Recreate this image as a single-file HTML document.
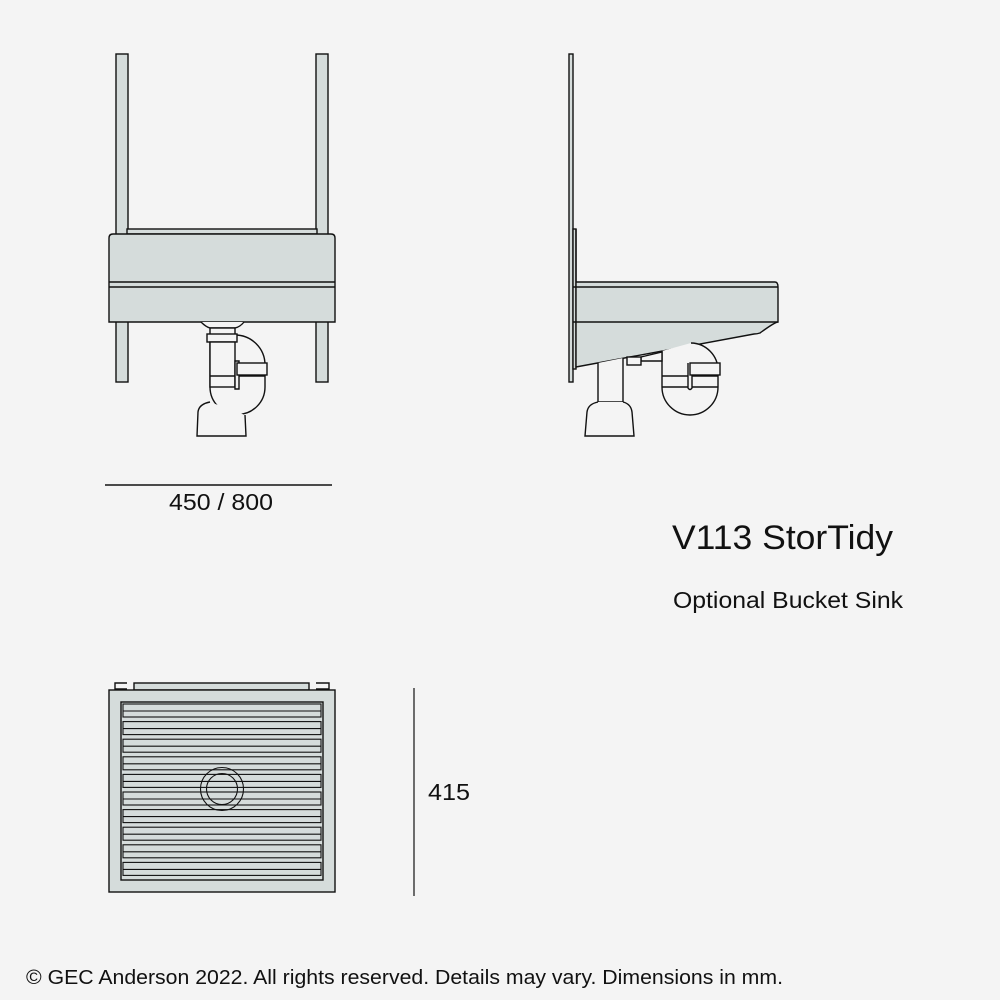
<!DOCTYPE html>
<html><head><style>
html,body{margin:0;padding:0;background:#f4f4f4;}
svg{display:block}
text{font-family:"Liberation Sans",Arial,sans-serif;fill:#111}
</style></head><body>
<svg width="1000" height="1000" viewBox="0 0 1000 1000" xmlns="http://www.w3.org/2000/svg">
<rect width="1000" height="1000" fill="#f4f4f4"/>
<g fill="#d5dcdb" stroke="#111" stroke-width="1.4">
<!-- FRONT VIEW -->
<rect x="116" y="54" width="12" height="328"/>
<rect x="316" y="54" width="12" height="328"/>
<rect x="127" y="229" width="190" height="5"/>
<path d="M109 322 V238 Q109 234 113 234 H331 Q335 234 335 238 V322 Z"/>
<line x1="109" y1="282" x2="335" y2="282"/>
<line x1="109" y1="287" x2="335" y2="287"/>
<path d="M201 322 Q206 327 210 328 H235 Q240 327 244 322" fill="#f4f4f4"/>
<g fill="#f4f4f4">
<path d="M235 335 A30 30 0 0 1 265 365 V387 A27.5 27.5 0 0 1 210 387 V342"/>
<rect x="210" y="328" width="25" height="7"/>
<rect x="207" y="334" width="30" height="8"/>
<rect x="210" y="342" width="25" height="45"/>
<line x1="210" y1="376" x2="265" y2="376"/>
<path d="M235 361 h4 v28 h-4z"/>
<rect x="237" y="363" width="30" height="12"/>
<path d="M210 402 Q199 404 198 412 L197 436 H246 L245 415"/>
</g>
<line x1="105" y1="485" x2="332" y2="485"/>

<!-- SIDE VIEW -->
<rect x="569" y="54" width="4" height="328"/>
<rect x="573" y="229" width="3" height="140"/>
<path d="M576 229 V282 H775 Q778 282 778 287 V322 Q775 322 760 333 Q757 334 754 334 L576 367 Z"/>
<line x1="573" y1="287" x2="778" y2="287"/>
<line x1="573" y1="322" x2="778" y2="322"/>
<g fill="#f4f4f4">
<path d="M691 343 A27.5 27.5 0 0 1 718 371 V387 A27.5 27.5 0 0 1 662 387 V351"/>
<line x1="662" y1="376" x2="718" y2="376"/>
<line x1="662" y1="387" x2="718" y2="387"/>
<path d="M688 363 V388 Q690 391 692 388 V363"/>
<rect x="690" y="363" width="30" height="12"/>
<path d="M641 357 L662 352 V361 H641Z"/>
<rect x="627" y="357" width="14" height="8"/>
<path d="M598 363 V402 H623 V358"/>
<path d="M598 402 Q588 404 587 412 L585 436 H634 L632 412 Q631 404 623 402"/>
</g>

<!-- TOP VIEW -->
<rect x="134" y="683" width="175" height="7"/>
<path d="M127 689 H115 V683 H127" fill="none"/>
<path d="M316 689 H329 V683 H316" fill="none"/>
<rect x="109" y="690" width="226" height="202"/>
<rect x="121" y="702" width="202" height="178"/>
</g>
<g fill="#d5dcdb" stroke="#111" stroke-width="1.1">
<rect x="123" y="704" width="198" height="13"/><line x1="123" y1="711" x2="321" y2="711"/>
<rect x="123" y="721.6" width="198" height="13"/><line x1="123" y1="728.6" x2="321" y2="728.6"/>
<rect x="123" y="739.2" width="198" height="13"/><line x1="123" y1="746.2" x2="321" y2="746.2"/>
<rect x="123" y="756.8" width="198" height="13"/><line x1="123" y1="763.8" x2="321" y2="763.8"/>
<rect x="123" y="774.4" width="198" height="13"/><line x1="123" y1="781.4" x2="321" y2="781.4"/>
<rect x="123" y="792" width="198" height="13"/><line x1="123" y1="799" x2="321" y2="799"/>
<rect x="123" y="809.6" width="198" height="13"/><line x1="123" y1="816.6" x2="321" y2="816.6"/>
<rect x="123" y="827.2" width="198" height="13"/><line x1="123" y1="834.2" x2="321" y2="834.2"/>
<rect x="123" y="844.8" width="198" height="13"/><line x1="123" y1="851.8" x2="321" y2="851.8"/>
<rect x="123" y="862.4" width="198" height="13"/><line x1="123" y1="869.4" x2="321" y2="869.4"/>
<circle cx="222" cy="789" r="21.5" fill="none"/>
<circle cx="222" cy="789" r="15.5" fill="none"/>
</g>
<line x1="414" y1="688" x2="414" y2="896" stroke="#111" stroke-width="1.2"/>

<text x="169" y="510" font-size="23" textLength="104" lengthAdjust="spacingAndGlyphs">450 / 800</text>
<text x="428" y="800" font-size="23" textLength="42" lengthAdjust="spacingAndGlyphs">415</text>
<text x="672" y="549" font-size="34" textLength="221" lengthAdjust="spacingAndGlyphs">V113 StorTidy</text>
<text x="673" y="608" font-size="23" textLength="230" lengthAdjust="spacingAndGlyphs">Optional Bucket Sink</text>
<text x="26" y="984" font-size="20" textLength="757" lengthAdjust="spacingAndGlyphs">© GEC Anderson 2022. All rights reserved. Details may vary. Dimensions in mm.</text>
</svg>
</body></html>
